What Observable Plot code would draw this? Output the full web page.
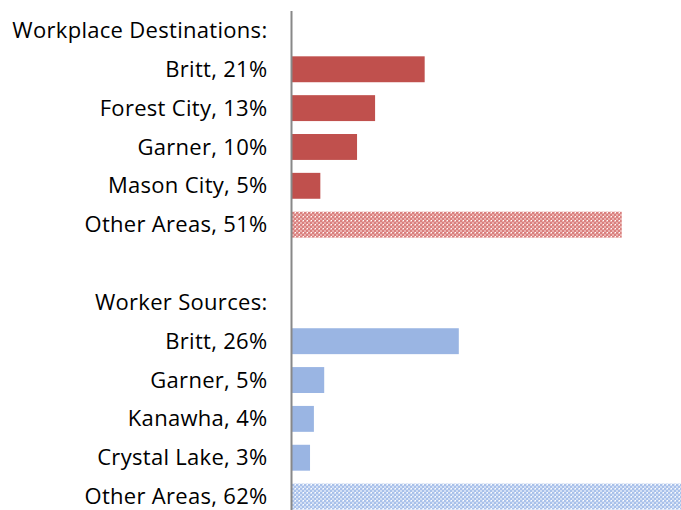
<!DOCTYPE html>
<html><head><meta charset="utf-8">
<script src="https://cdn.jsdelivr.net/npm/d3@7"></script>
<script src="https://cdn.jsdelivr.net/npm/@observablehq/plot@0.6"></script>
<style>body{margin:0;background:#fff}</style>
</head><body><div id="chart"></div>
<script>
const rowLabels = ["Workplace Destinations:","Britt, 21%","Forest City, 13%","Garner, 10%","Mason City, 5%","Other Areas, 51%"," ","Worker Sources:","Britt, 26%","Garner, 5%","Kanawha, 4%","Crystal Lake, 3%","Other Areas, 62%"];
const destNames = ["Britt, 21%","Forest City, 13%","Garner, 10%","Mason City, 5%","Other Areas, 51%"];
const destValues = [20.6,12.9,10.1,4.4,51.2];
const srcNames = ["Britt, 26%","Garner, 5%","Kanawha, 4%","Crystal Lake, 3%","Other Areas, 62%"];
const srcValues = [25.9,5.0,3.4,2.8,62];

const data = [
  ...destNames.map((n,i)=>({row:n, v:destValues[i], fill: i===4 ? "url(#hatchRed)" : "#C0504D"})),
  ...srcNames.map((n,i)=>({row:n, v:srcValues[i], fill: i===4 ? "url(#hatchBlue)" : "#9AB5E3"}))
];

const chart = Plot.plot({
  width: 681, height: 510,
  marginLeft: 292, marginRight: 0, marginTop: 11, marginBottom: 0,
  style: {fontFamily: "'Open Sans', sans-serif", fontSize: "22px", color: "#000", letterSpacing: "0.3px"},
  x: {domain: [0, 60.4], axis: null},
  y: {domain: rowLabels, range: [11, 516], round: false, paddingInner: 0.333, paddingOuter: 0.1667, label: null, tickSize: 0, tickPadding: 25},
  marks: [
    Plot.barX(data, {y: "row", x: "v", fill: d => d.fill, clip: true}),
    Plot.ruleX([0], {stroke: "#888", strokeWidth: 2, dx: -1})
  ]
});
const ns = "http://www.w3.org/2000/svg";
const defs = document.createElementNS(ns, "defs");
defs.innerHTML = `
<pattern id="hatchRed" patternUnits="userSpaceOnUse" width="4" height="4">
  <rect width="4" height="4" fill="#EBB0AE"/>
  <rect x="0" y="0" width="2" height="2" fill="#D9807E"/>
  <rect x="2" y="2" width="2" height="2" fill="#D9807E"/>
  <rect x="3" y="0" width="1" height="1" fill="#fff"/>
</pattern>
<pattern id="hatchBlue" patternUnits="userSpaceOnUse" width="4" height="4">
  <rect width="4" height="4" fill="#D2DFF5"/>
  <rect x="0" y="0" width="2" height="2" fill="#A9C1EA"/>
  <rect x="2" y="2" width="2" height="2" fill="#A9C1EA"/>
  <rect x="3" y="0" width="1" height="1" fill="#fff"/>
</pattern>`;
chart.insertBefore(defs, chart.firstChild);
chart.querySelectorAll("g[aria-label='y-axis tick label'] text, g[aria-label='y-axis tick label']").forEach(e=>e.setAttribute("fill","#000"));
document.getElementById("chart").appendChild(chart);
</script></body></html>
